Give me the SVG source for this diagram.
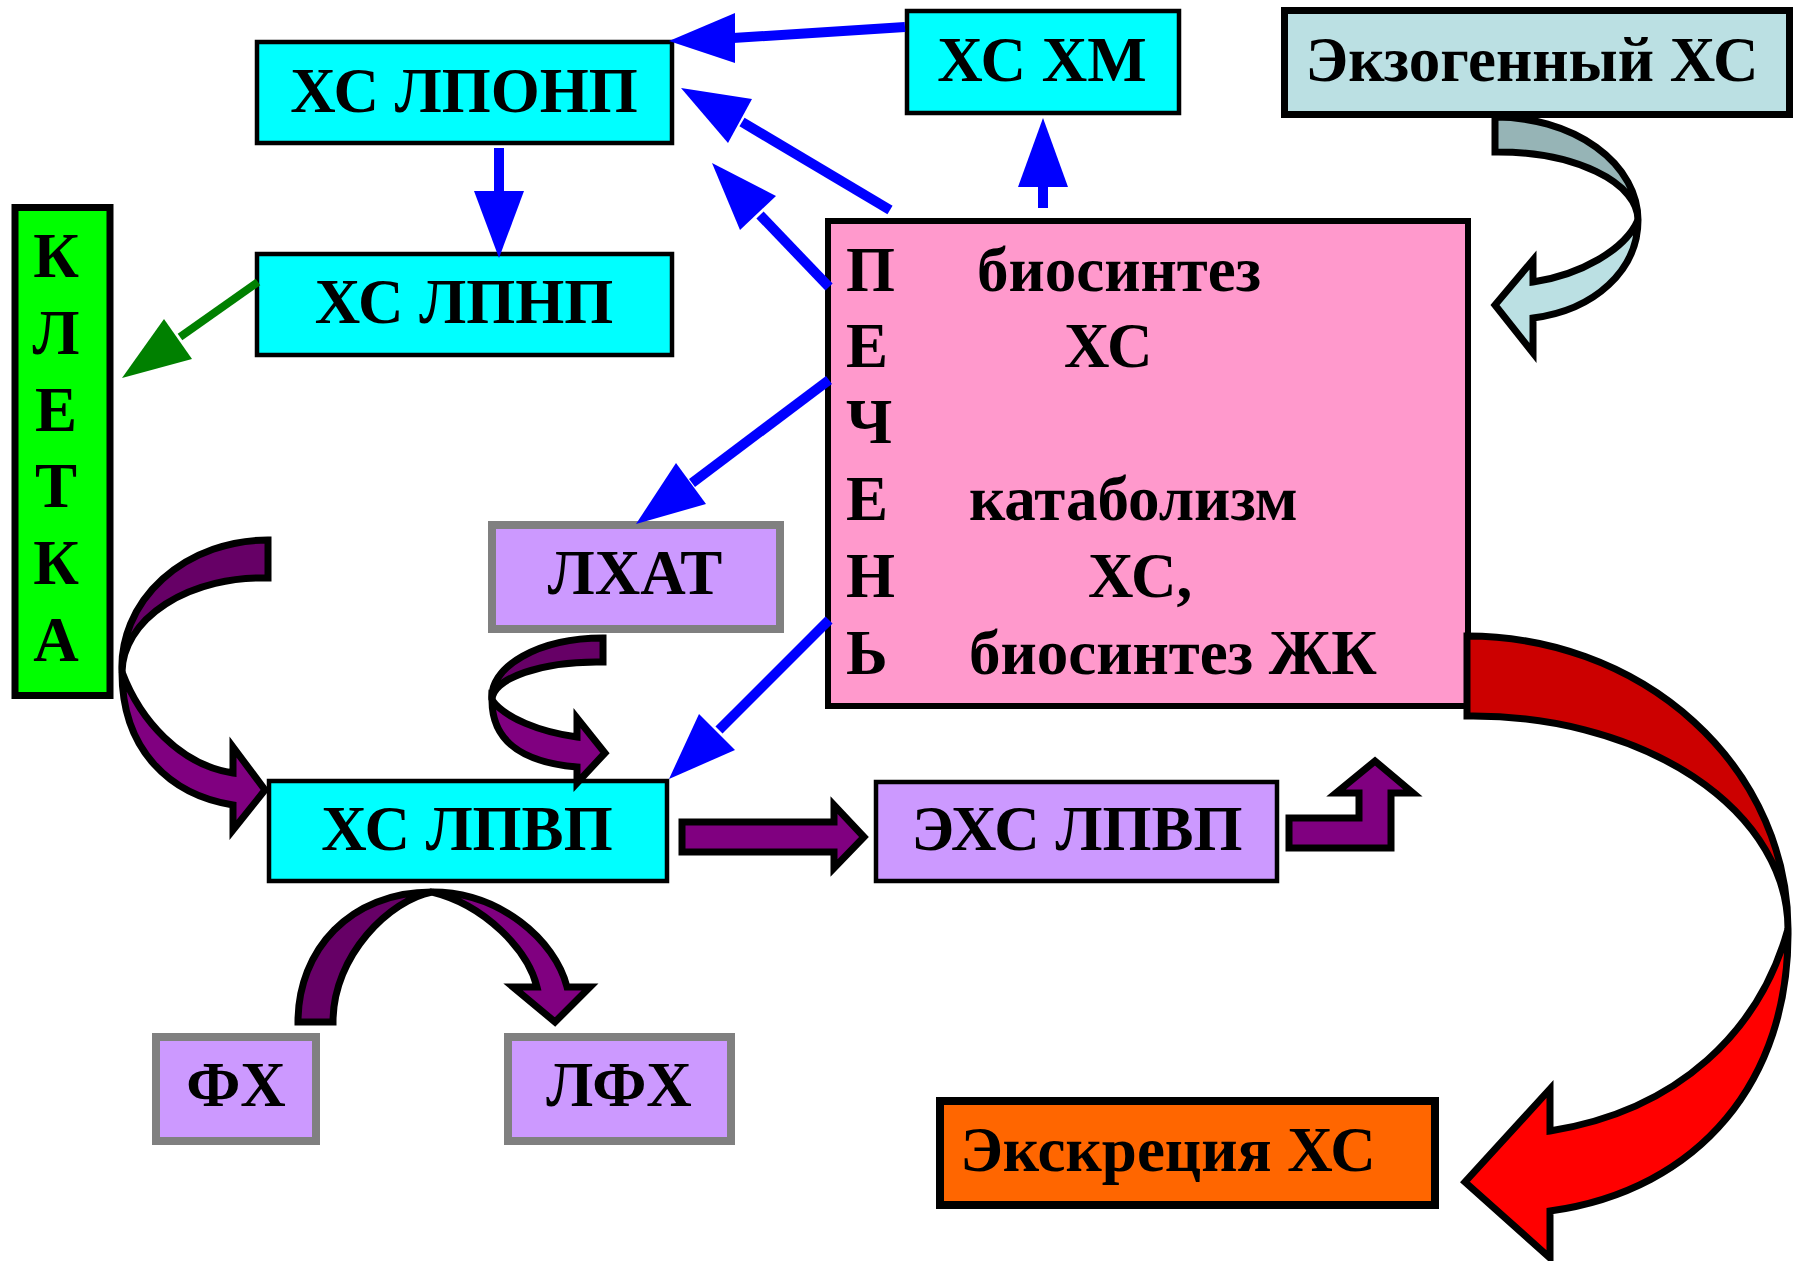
<svg xmlns="http://www.w3.org/2000/svg" width="1795" height="1261" viewBox="0 0 1795 1261">
<defs>
<style>
.t{font-family:"Liberation Serif","Times New Roman",serif;font-weight:bold;font-size:63px;fill:#000}
.c{text-anchor:middle}
.cy{fill:#00FFFF;stroke:#000;stroke-width:4.5}
.lv{fill:#CC99FF;stroke:#808080;stroke-width:8}
.bl{stroke:#0000FF;stroke-width:10;fill:none}
.bh{fill:#0000FF}
.ol{stroke:#000;stroke-width:7;stroke-linejoin:miter}
.pd{fill:#660066}
.pl{fill:#800080}
</style>
</defs>
<rect width="1795" height="1261" fill="#fff"/>
<g id="node-xs-lponp"><rect class="cy" x="257" y="42" width="415" height="101"/><text class="t c" x="464" y="112">ХС ЛПОНП</text></g>
<g id="node-xs-lpnp"><rect class="cy" x="257" y="254" width="415" height="101"/><text class="t c" x="464" y="323">ХС ЛПНП</text></g>
<g id="node-xs-xm"><rect class="cy" x="907" y="11" width="272" height="102"/><text class="t c" x="1042" y="81">ХС ХМ</text></g>
<g id="node-exo"><rect x="1284.5" y="10.5" width="505" height="104" fill="#BBE0E3" stroke="#000" stroke-width="7"/><text class="t c" x="1532" y="81">Экзогенный ХС</text></g>
<g id="node-liver"><rect x="828" y="221" width="640" height="485" fill="#FF99CC" stroke="#000" stroke-width="6"/>
<text class="t" x="846" y="291">П</text><text class="t" x="846" y="367">Е</text><text class="t" x="846" y="443">Ч</text><text class="t" x="846" y="520">Е</text><text class="t" x="846" y="597">Н</text><text class="t" x="846" y="674">Ь</text>
<text class="t" x="977" y="291">биосинтез</text><text class="t" x="1064" y="367">ХС</text><text class="t" x="969" y="520">катаболизм</text><text class="t" x="1088" y="597">ХС,</text><text class="t" x="969" y="674">биосинтез ЖК</text></g>
<g id="node-cell"><rect x="15" y="207.5" width="95" height="488" fill="#00FF00" stroke="#000" stroke-width="7"/>
<text class="t c" x="56" y="277">К</text><text class="t c" x="56" y="354">Л</text><text class="t c" x="56" y="431">Е</text><text class="t c" x="56" y="507">Т</text><text class="t c" x="56" y="584">К</text><text class="t c" x="56" y="661">А</text></g>
<g id="node-lhat"><rect class="lv" x="492" y="525" width="288" height="104"/><text class="t c" x="635" y="594">ЛХАТ</text></g>
<g id="node-xs-lpvp"><rect class="cy" x="269" y="781" width="398" height="100"/><text class="t c" x="467" y="850">ХС ЛПВП</text></g>
<g id="node-exs-lpvp"><rect x="876" y="782" width="401" height="99" fill="#CC99FF" stroke="#000" stroke-width="4.5"/><text class="t c" x="1077" y="850">ЭХС ЛПВП</text></g>
<g id="node-fx"><rect class="lv" x="156" y="1037" width="160" height="104"/><text class="t c" x="236" y="1106">ФХ</text></g>
<g id="node-lfx"><rect class="lv" x="508" y="1037" width="223" height="104"/><text class="t c" x="619" y="1106">ЛФХ</text></g>
<g id="node-excr"><rect x="940" y="1101" width="495" height="104" fill="#FF6600" stroke="#000" stroke-width="8"/><text class="t c" x="1168" y="1171">Экскреция ХС</text></g>
<g id="connectors">
<line class="bl" x1="905" y1="27" x2="733" y2="38"/><polygon class="bh" points="669,41 735,13 735,63"/>
<line class="bl" x1="890" y1="210" x2="742" y2="122"/><polygon class="bh" points="681,88 752,99 728,143"/>
<line class="bl" x1="829" y1="287" x2="760" y2="215"/><polygon class="bh" points="712,163 776,196 740,230"/>
<line class="bl" x1="829" y1="380" x2="692" y2="483"/><polygon class="bh" points="636,524 676,463 706,504"/>
<line class="bl" x1="829" y1="620" x2="719" y2="730"/><polygon class="bh" points="669,779 699,714 735,750"/>
<line class="bl" x1="499" y1="148" x2="499" y2="193"/><polygon class="bh" points="474,191 524,191 499,258"/>
<line class="bl" x1="1043" y1="208" x2="1043" y2="185"/><polygon class="bh" points="1018,187 1068,187 1043,118"/>
<line x1="258" y1="282" x2="180" y2="337" stroke="#008000" stroke-width="8"/><polygon fill="#008000" points="122,378 164,319 192,359"/>
<path class="ol" fill="#96B4B6" d="M1495,117 A143,103 0 0 1 1638,220 A140,68 0 0 0 1495,152 Z"/>
<path class="ol" fill="#BBE0E3" d="M1638,220 C1638,270 1595,310 1533,318 L1533,353 L1495,305 L1533,260 L1533,282 C1580,275 1625,250 1638,220 Z"/>
<path class="ol" fill="#CC0000" d="M1467,636 A321,293 0 0 1 1788,929 A315,213 0 0 0 1467,716 Z"/>
<path class="ol" fill="#FF0000" d="M1788,929 C1790,1080 1700,1190 1550,1211 L1550,1258 L1465,1182 L1550,1089 L1550,1131 C1680,1110 1760,1030 1788,929 Z"/>
<path class="ol pd" d="M268,540 A146,127 0 0 0 122,672 A140,95 0 0 1 268,578 Z"/>
<path class="ol pl" d="M122,672 C122,750 170,795 233,805 L233,830 L265,790 L233,747 L233,773 C180,765 140,720 122,672 Z"/>
<path class="ol pd" d="M603,638 A111,59 0 0 0 492,700 A105,38 0 0 1 603,662 Z"/>
<path class="ol pl" d="M492,700 C492,740 520,762 577,767 L577,783 L605,753 L577,718 L577,737 C540,732 505,718 492,700 Z"/>
<path class="ol pd" d="M298,1022 C298,950 350,892 432,892 C390,900 333,955 333,1022 Z"/>
<path class="ol pl" d="M432,892 C500,892 555,940 567,987 L590,987 L555,1022 L513,987 L537,987 C528,950 485,905 432,892 Z"/>
<path class="ol pl" d="M682,822 H834 V805 L864,837 L834,868 V852 H682 Z"/>
<path class="ol pl" d="M1289,818 H1359 V793 H1336 L1375,761 L1413,793 H1391 V848 H1289 Z"/>
</g>
</svg>
